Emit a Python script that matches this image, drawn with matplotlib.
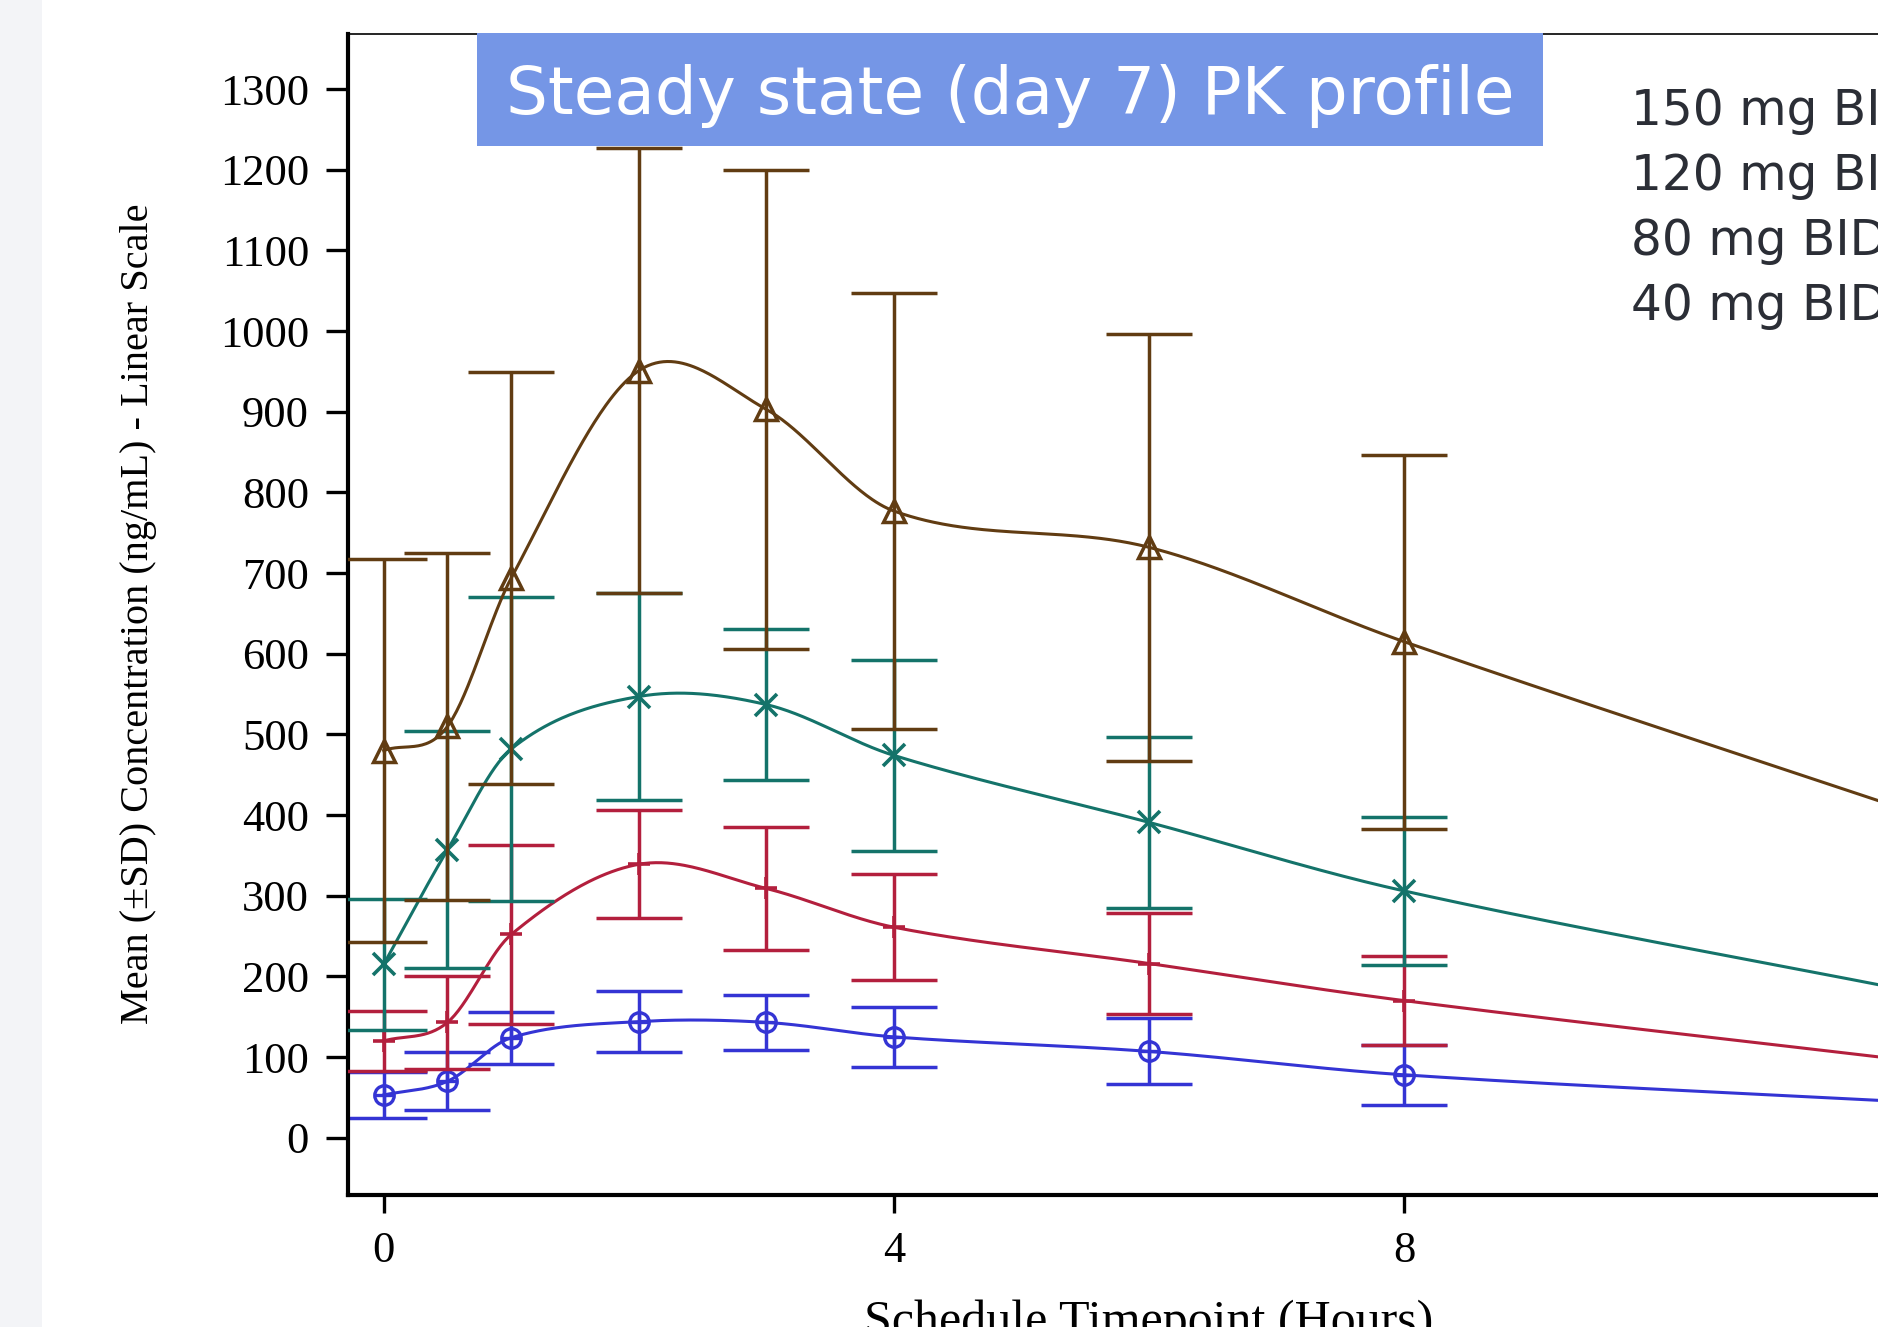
import numpy as np
import matplotlib
matplotlib.use("Agg")
import matplotlib.pyplot as plt
from matplotlib.patches import Rectangle

# scheduled timepoints (hours); the 12 h point sits just past the cropped right edge
hours = [0, 0.5, 1, 2, 3, 4, 6, 8, 12]
sd_hours = hours[:8]

# mean concentrations (ng/mL)
mean_150 = [480, 510, 694, 951, 903, 777, 732, 615, 403]
mean_120 = [215, 357, 482, 547, 537, 474, 391, 306, 181]
mean_80 = [120, 143, 252, 339, 309, 261, 216, 170, 95]
mean_40 = [53, 70, 124, 144, 143, 125, 107, 78, 44]

# SD at the first 8 timepoints
sd_150 = [237, 215, 255, 276, 297, 270, 265, 232]
sd_120 = [81, 147, 189, 128, 94, 118, 106, 92]
sd_80 = [37, 58, 111, 67, 76, 66, 63, 55]
sd_40 = [29, 36, 32, 38, 34, 37, 41, 37]

dose_labels = ["150 mg BID", "120 mg BID", "80 mg BID", "40 mg BID"]
y_ticks = list(range(0, 1301, 100))
x_ticks = [0, 4, 8]


def smooth_curve(x, y, xs):
    # Catmull-Rom style hermite curve through the points
    x = np.asarray(x, float)
    y = np.asarray(y, float)
    n = len(x)
    m = np.empty(n)
    m[0] = (y[1] - y[0]) / (x[1] - x[0])
    m[-1] = (y[-1] - y[-2]) / (x[-1] - x[-2])
    m[1:-1] = (y[2:] - y[:-2]) / (x[2:] - x[:-2])
    idx = np.clip(np.searchsorted(x, xs, side="right") - 1, 0, n - 2)
    h = x[idx + 1] - x[idx]
    s = (xs - x[idx]) / h
    h00 = 2 * s ** 3 - 3 * s ** 2 + 1
    h10 = s ** 3 - 2 * s ** 2 + s
    h01 = -2 * s ** 3 + 3 * s ** 2
    h11 = s ** 3 - s ** 2
    return h00 * y[idx] + h10 * h * m[idx] + h01 * y[idx + 1] + h11 * h * m[idx + 1]


W, H = 1878, 1327
fig = plt.figure(figsize=(W / 100, H / 100), dpi=100)
fig.patch.set_facecolor("white")

# light strip on the far left of the slide
fig.add_artist(Rectangle((0, 0), 42 / W, 1, transform=fig.transFigure,
                         facecolor="#f3f4f7", edgecolor="none", zorder=0))

ax = fig.add_axes([348 / W, 1 - 1195 / H, 1602 / W, (1195 - 33.5) / H])

series = [
    (mean_40, sd_40, "#3434d4", "o"),
    (mean_80, sd_80, "#b31f3d", "+"),
    (mean_120, sd_120, "#14736a", "x"),
    (mean_150, sd_150, "#613c12", "^"),
]

xs = np.linspace(0, 12, 800)
for z, (m, sd, col, mk) in enumerate(series):
    zo = 2 + z
    ax.plot(xs, smooth_curve(hours, m, xs), color=col, lw=2.2, zorder=zo)
    ax.errorbar(sd_hours, m[:8], yerr=sd, fmt="none", ecolor=col,
                elinewidth=2.5, capsize=31, capthick=2.5, zorder=zo)
    if mk == "o":
        ax.plot(hours, m, ls="none", marker="o", ms=14, mfc="none",
                mec=col, mew=2.4, zorder=zo)
        ax.plot(hours, m, ls="none", marker="+", ms=13, mec=col,
                mew=2.4, zorder=zo)
    elif mk == "^":
        ax.plot(hours, m, ls="none", marker="^", ms=16, mfc="none",
                mec=col, mew=2.5, zorder=zo)
    else:
        ax.plot(hours, m, ls="none", marker=mk, ms=16, mec=col,
                mew=2.6, zorder=zo)

ax.set_xlim(-0.28, 12.28)
ax.set_ylim(-71, 1369)
ax.set_xticks(x_ticks)
ax.set_yticks(y_ticks)

serif = "Liberation Serif"
ax.tick_params(axis="y", direction="out", length=16, width=2.4, pad=12,
               labelsize=32)
ax.tick_params(axis="x", direction="out", length=13, width=2.4, pad=13,
               labelsize=32)
for lab in ax.get_xticklabels() + ax.get_yticklabels():
    lab.set_fontfamily(serif)

ax.spines["left"].set_linewidth(3)
ax.spines["bottom"].set_linewidth(3)
ax.spines["top"].set_linewidth(1.2)
ax.spines["right"].set_visible(False)

ax.set_ylabel("Mean (±SD) Concentration (ng/mL) - Linear Scale",
              fontfamily=serif, fontsize=29)
ax.yaxis.set_label_coords((157 - 348) / 1602, 0.5)
ax.set_xlabel("Schedule Timepoint (Hours)", fontfamily=serif, fontsize=36)
ax.xaxis.set_label_coords(0.5, (1195 - 1300) / (1195 - 33.5))

# title banner
fig.add_artist(Rectangle((477 / W, 1 - 146 / H), (1543 - 477) / W,
                         (146 - 33.5) / H, transform=fig.transFigure,
                         facecolor="#7596e6", edgecolor="none", zorder=5))
fig.text((477 + 1543) / 2 / W, 1 - 114 / H, "Steady state (day 7) PK profile",
         ha="center", va="baseline", color="white", fontsize=47.5,
         fontfamily="DejaVu Sans", zorder=6)

# dose labels on the right
for i, lab in enumerate(dose_labels):
    fig.text(1631 / W, 1 - (125 + 65 * i) / H, lab, ha="left", va="baseline",
             color="#2b2e36", fontsize=35, fontfamily="DejaVu Sans", zorder=6)

fig.savefig("out.png", dpi=100)
